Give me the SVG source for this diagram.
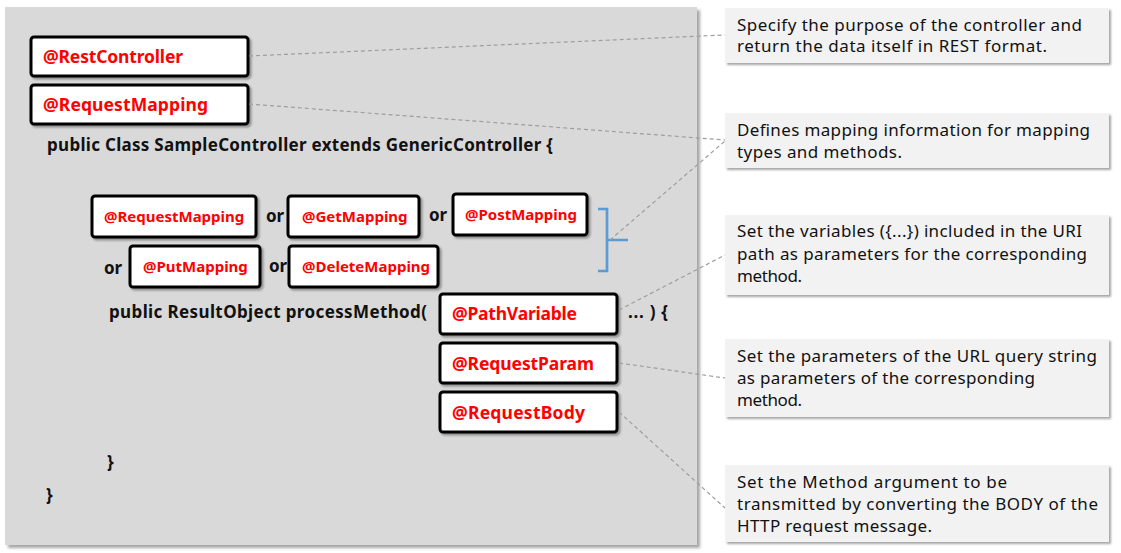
<svg xmlns="http://www.w3.org/2000/svg" width="1121" height="553" viewBox="0 0 1121 553">
<defs>
<filter id="sh" x="-10%" y="-20%" width="130%" height="150%">
<feDropShadow dx="2" dy="2" stdDeviation="1.2" flood-color="#000" flood-opacity="0.35"/>
</filter>
<filter id="psh" x="-5%" y="-5%" width="110%" height="110%">
<feDropShadow dx="3" dy="3" stdDeviation="1.5" flood-color="#000" flood-opacity="0.35"/>
</filter>
<style>
.anno rect{fill:#ffffff;stroke:#000000;stroke-width:3;filter:url(#sh)}
.anno text{font-family:"Noto Sans","DejaVu Sans",sans-serif;font-weight:bold;fill:#ff0000}
.big{font-size:17.5px}
.small{font-size:15px}
.code{font-family:"Noto Sans","DejaVu Sans",sans-serif;font-weight:bold;font-size:17px;fill:#111111}
.note rect{fill:#f2f2f2;filter:url(#sh)}
.note text{font-family:"Noto Sans","DejaVu Sans",sans-serif;font-size:17px;fill:#111111}
.conn line{stroke:#9e9e9e;stroke-width:1.2;stroke-dasharray:4 3;fill:none}
</style>
</defs>
<rect x="0" y="0" width="1121" height="553" fill="#ffffff"/>
<g id="panel">
<rect x="5" y="7" width="692" height="538" fill="#d9d9d9" filter="url(#psh)"/>
</g>
<g id="code">
<text class="code" x="47" y="151" textLength="506" lengthAdjust="spacing">public Class SampleController extends GenericController {</text>
<text class="code" x="266" y="222">or</text>
<text class="code" x="429" y="221">or</text>
<text class="code" x="104" y="274">or</text>
<text class="code" x="269" y="272">or</text>
<text class="code" x="109" y="318" textLength="318" lengthAdjust="spacing">public ResultObject processMethod(</text>
<text class="code" x="628" y="318" textLength="40" lengthAdjust="spacing">... ) {</text>
<text class="code" x="107" y="468">}</text>
<text class="code" x="46" y="501">}</text>
</g>
<g id="n-restcontroller" class="anno">
<rect x="31" y="37" width="217" height="39" rx="3"/>
<text class="big" x="43" y="63" textLength="140" lengthAdjust="spacing">@RestController</text>
</g>
<g id="n-requestmapping" class="anno">
<rect x="31" y="85" width="217" height="39" rx="3"/>
<text class="big" x="43" y="111" textLength="165" lengthAdjust="spacing">@RequestMapping</text>
</g>
<g id="n-requestmapping2" class="anno">
<rect x="92" y="196" width="164" height="41" rx="3"/>
<text class="small" x="104" y="222">@RequestMapping</text>
</g>
<g id="n-getmapping" class="anno">
<rect x="288" y="196" width="131" height="41" rx="3"/>
<text class="small" x="302" y="222">@GetMapping</text>
</g>
<g id="n-postmapping" class="anno">
<rect x="453" y="194" width="134" height="41" rx="3"/>
<text class="small" x="465" y="220">@PostMapping</text>
</g>
<g id="n-putmapping" class="anno">
<rect x="130" y="246" width="130" height="41" rx="3"/>
<text class="small" x="143" y="272">@PutMapping</text>
</g>
<g id="n-deletemapping" class="anno">
<rect x="289" y="246" width="149" height="41" rx="3"/>
<text class="small" x="302" y="272">@DeleteMapping</text>
</g>
<g id="n-pathvariable" class="anno">
<rect x="440" y="294" width="177" height="40" rx="3"/>
<text class="big" x="452" y="320" textLength="125" lengthAdjust="spacing">@PathVariable</text>
</g>
<g id="n-requestparam" class="anno">
<rect x="440" y="343" width="177" height="40" rx="3"/>
<text class="big" x="452" y="370" textLength="142" lengthAdjust="spacing">@RequestParam</text>
</g>
<g id="n-requestbody" class="anno">
<rect x="440" y="392" width="177" height="40" rx="3"/>
<text class="big" x="452" y="419" textLength="133" lengthAdjust="spacing">@RequestBody</text>
</g>
<g id="bracket">
<path d="M598 209 H607 V271 H598 M607 240 H628" fill="none" stroke="#5b9bd5" stroke-width="2.7"/>
</g>
<g id="note1" class="note">
<rect x="725" y="8" width="384" height="55"/>
<text x="737" y="31" textLength="345" lengthAdjust="spacing">Specify the purpose of the controller and</text>
<text x="737" y="52" textLength="310" lengthAdjust="spacing">return the data itself in REST format.</text>
</g>
<g id="note2" class="note">
<rect x="725" y="113" width="384" height="55"/>
<text x="737" y="136" textLength="353" lengthAdjust="spacing">Defines mapping information for mapping</text>
<text x="737" y="158" textLength="165" lengthAdjust="spacing">types and methods.</text>
</g>
<g id="note3" class="note">
<rect x="725" y="215" width="384" height="80"/>
<text x="737" y="237" textLength="345" lengthAdjust="spacing">Set the variables ({...}) included in the URI</text>
<text x="737" y="260" textLength="350" lengthAdjust="spacing">path as parameters for the corresponding</text>
<text x="737" y="282" textLength="65" lengthAdjust="spacing">method.</text>
</g>
<g id="note4" class="note">
<rect x="725" y="339" width="384" height="78"/>
<text x="737" y="362" textLength="360" lengthAdjust="spacing">Set the parameters of the URL query string</text>
<text x="737" y="384" textLength="298" lengthAdjust="spacing">as parameters of the corresponding</text>
<text x="737" y="406" textLength="65" lengthAdjust="spacing">method.</text>
</g>
<g id="note5" class="note">
<rect x="725" y="465" width="384" height="77"/>
<text x="737" y="488" textLength="270" lengthAdjust="spacing">Set the Method argument to be</text>
<text x="737" y="510" textLength="361" lengthAdjust="spacing">transmitted by converting the BODY of the</text>
<text x="737" y="532" textLength="195" lengthAdjust="spacing">HTTP request message.</text>
</g>
<g id="connectors" class="conn">
<line x1="249" y1="56" x2="725" y2="35"/>
<line x1="249" y1="104" x2="725" y2="140"/>
<line x1="610" y1="240" x2="725" y2="141"/>
<line x1="619" y1="310" x2="725" y2="255"/>
<line x1="619" y1="363" x2="725" y2="378"/>
<line x1="619" y1="412" x2="725" y2="508"/>
</g>
</svg>
